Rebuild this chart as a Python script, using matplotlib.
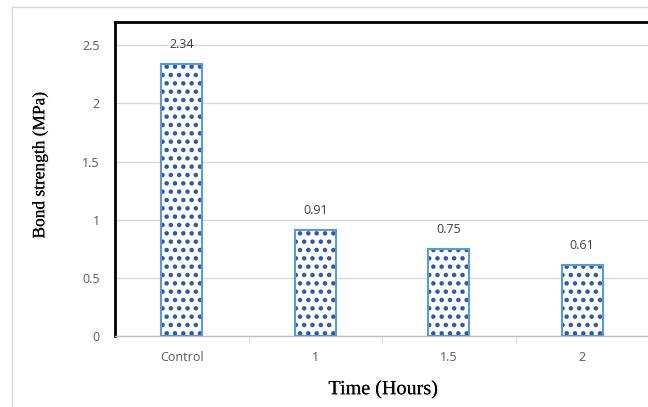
import matplotlib.pyplot as plt
import matplotlib.patheffects as pe
from matplotlib.lines import Line2D

# 接着強度のデータ
categories = ['Control', '1', '1.5', '2']
strength = [2.34, 0.91, 0.75, 0.61]
yticks = [0, 0.5, 1, 1.5, 2, 2.5]
ytick_labels = ['0', '0.5', '1', '1.5', '2', '2.5']

plt.rcParams['hatch.linewidth'] = 2.0

fig = plt.figure(figsize=(6.48, 4.07), dpi=100)
W, H = 648, 407
ax = fig.add_axes([115 / W, 1 - 336 / H, 534 / W, (336 - 22) / H])

# 外枠（左と上）
fig.add_artist(Line2D([11.5 / W, 11.5 / W], [0, 1 - 6.5 / H], color='#d9d9d9',
                      linewidth=1.0, transform=fig.transFigure))
fig.add_artist(Line2D([11.5 / W, 1], [1 - 6.5 / H, 1 - 6.5 / H], color='#d9d9d9',
                      linewidth=1.0, transform=fig.transFigure))

x = list(range(len(categories)))
# ドット模様
ax.bar(x, strength, width=0.31, color='white', edgecolor='#2e55a0',
       linewidth=0, hatch='..', zorder=3)
# 枠線
ax.bar(x, strength, width=0.31, fill=False, edgecolor='#5b9bd5',
       linewidth=1.5, zorder=4)

for xi, v in zip(x, strength):
    ax.text(xi, v + 0.17, f'{v:.2f}', ha='center', va='center',
            fontsize=9, color='#404040', family='Open Sans')

ax.set_xlim(-0.5, 3.5)
ax.set_ylim(0, 2.7)
ax.set_yticks(yticks)
ax.set_yticklabels(ytick_labels)
ax.set_xticks(x)
ax.set_xticklabels(categories)
ax.set_xticks([0.5, 1.5, 2.5], minor=True)
ax.tick_params(axis='y', length=0, pad=11, labelsize=9, labelcolor='#595959')
ax.tick_params(axis='x', which='major', length=0, pad=11, labelsize=9,
               labelcolor='#595959')
ax.tick_params(axis='x', which='minor', length=5, color='#d0d0d0')
for lbl in ax.get_xticklabels() + ax.get_yticklabels():
    lbl.set_family('Open Sans')

ax.grid(axis='y', color='#d9d9d9', linewidth=1.0, zorder=0)
ax.set_axisbelow(True)

ax.spines['left'].set_color('black')
ax.spines['left'].set_linewidth(2.0)
ax.spines['top'].set_color('black')
ax.spines['top'].set_linewidth(2.0)
ax.spines['right'].set_visible(False)
ax.spines['bottom'].set_color('#bfbfbf')
ax.spines['bottom'].set_linewidth(1.0)

shadow = [pe.withSimplePatchShadow(offset=(1, -1), shadow_rgbFace='#999999', alpha=0.2), pe.Normal()]
ax.set_ylabel('Bond strength (MPa)', fontsize=12.5, family='Liberation Serif',
              color='black', path_effects=shadow)
ax.yaxis.set_label_coords(-0.125, 0.545)
ax.set_xlabel('Time (Hours)', fontsize=14.5, family='Liberation Serif',
              color='black', path_effects=shadow)
ax.xaxis.set_label_coords(0.502, -0.14)

fig.savefig('out.png', dpi=100)
